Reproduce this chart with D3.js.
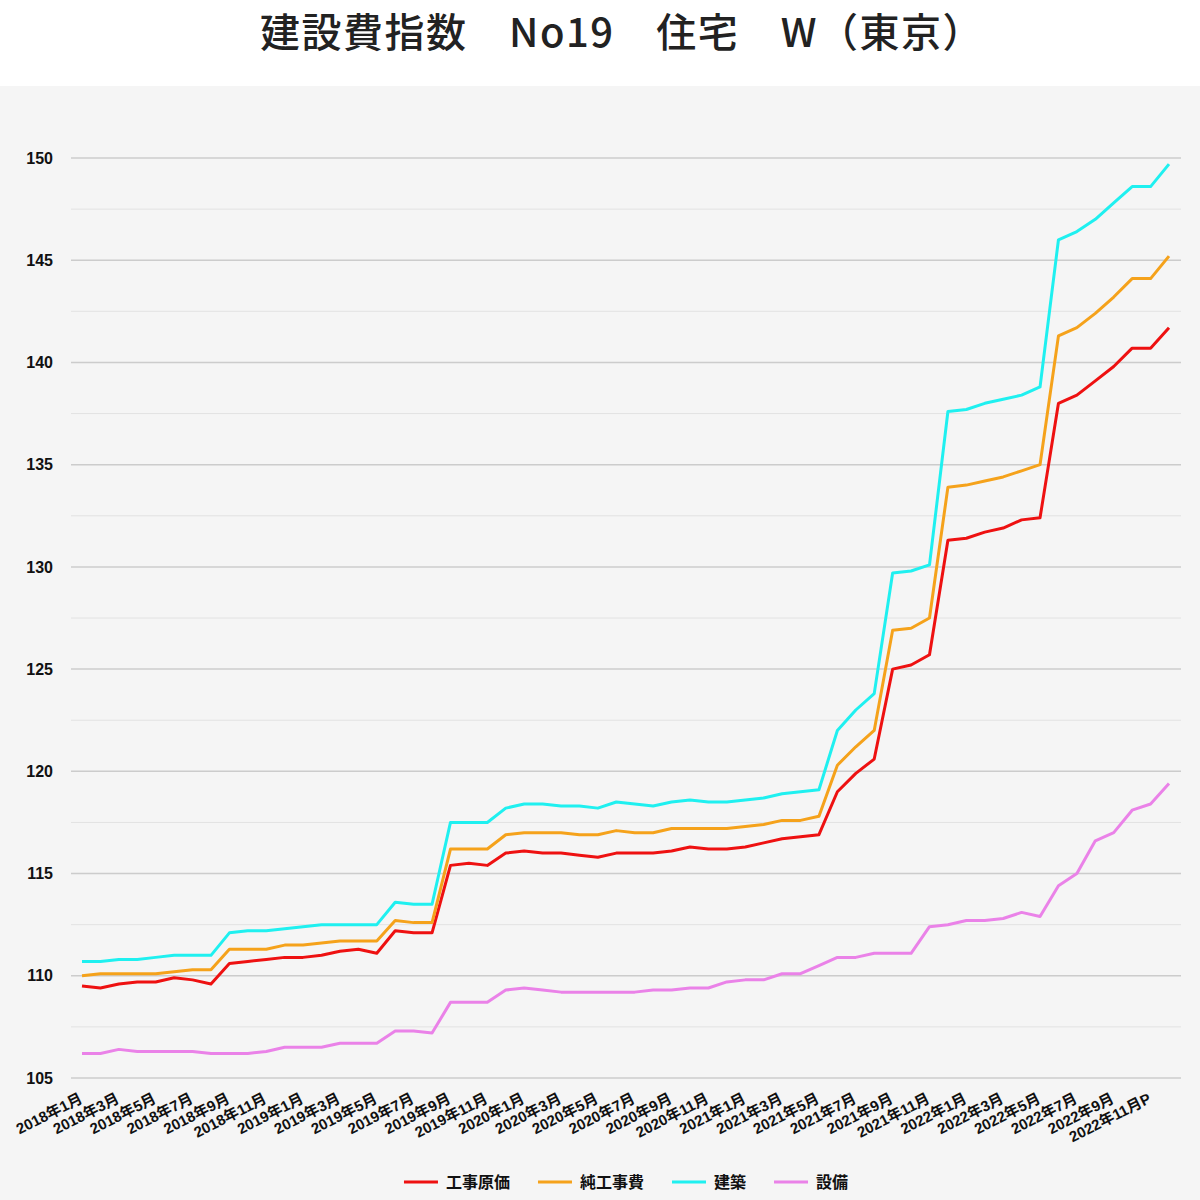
<!DOCTYPE html>
<html>
<head>
<meta charset="utf-8">
<script src="https://cdn.jsdelivr.net/npm/d3@7"></script>
<style>
	body { margin: 0; background: #ffffff; }
	svg { display: block; }
</style>
</head>
<body>
<svg id="chart-svg"></svg>
<script>
var CHART_WIDTH = 1200;
var CHART_HEIGHT = 1200;

var chartTitle = "建設費指数　No19　住宅　W（東京）";

// months, 2018年1月 .. 2022年12月 (last two preliminary)
var months = [
	"2018年1月", "2018年2月", "2018年3月", "2018年4月", "2018年5月", "2018年6月",
	"2018年7月", "2018年8月", "2018年9月", "2018年10月", "2018年11月", "2018年12月",
	"2019年1月", "2019年2月", "2019年3月", "2019年4月", "2019年5月", "2019年6月",
	"2019年7月", "2019年8月", "2019年9月", "2019年10月", "2019年11月", "2019年12月",
	"2020年1月", "2020年2月", "2020年3月", "2020年4月", "2020年5月", "2020年6月",
	"2020年7月", "2020年8月", "2020年9月", "2020年10月", "2020年11月", "2020年12月",
	"2021年1月", "2021年2月", "2021年3月", "2021年4月", "2021年5月", "2021年6月",
	"2021年7月", "2021年8月", "2021年9月", "2021年10月", "2021年11月", "2021年12月",
	"2022年1月", "2022年2月", "2022年3月", "2022年4月", "2022年5月", "2022年6月",
	"2022年7月", "2022年8月", "2022年9月", "2022年10月", "2022年11月P", "2022年12月P"
];

var seriesNames = ["工事原価", "純工事費", "建築", "設備"];

var kojiGenka = [
	109.5, 109.4, 109.6, 109.7, 109.7, 109.9, 109.8, 109.6, 110.6, 110.7,
	110.8, 110.9, 110.9, 111.0, 111.2, 111.3, 111.1, 112.2, 112.1, 112.1,
	115.4, 115.5, 115.4, 116.0, 116.1, 116.0, 116.0, 115.9, 115.8, 116.0,
	116.0, 116.0, 116.1, 116.3, 116.2, 116.2, 116.3, 116.5, 116.7, 116.8,
	116.9, 119.0, 119.9, 120.6, 125.0, 125.2, 125.7, 131.3, 131.4, 131.7,
	131.9, 132.3, 132.4, 138.0, 138.4, 139.1, 139.8, 140.7, 140.7, 141.7
];

var junKojihi = [
	110.0, 110.1, 110.1, 110.1, 110.1, 110.2, 110.3, 110.3, 111.3, 111.3,
	111.3, 111.5, 111.5, 111.6, 111.7, 111.7, 111.7, 112.7, 112.6, 112.6,
	116.2, 116.2, 116.2, 116.9, 117.0, 117.0, 117.0, 116.9, 116.9, 117.1,
	117.0, 117.0, 117.2, 117.2, 117.2, 117.2, 117.3, 117.4, 117.6, 117.6,
	117.8, 120.3, 121.2, 122.0, 126.9, 127.0, 127.5, 133.9, 134.0, 134.2,
	134.4, 134.7, 135.0, 141.3, 141.7, 142.4, 143.2, 144.1, 144.1, 145.2
];

var kenchiku = [
	110.7, 110.7, 110.8, 110.8, 110.9, 111.0, 111.0, 111.0, 112.1, 112.2,
	112.2, 112.3, 112.4, 112.5, 112.5, 112.5, 112.5, 113.6, 113.5, 113.5,
	117.5, 117.5, 117.5, 118.2, 118.4, 118.4, 118.3, 118.3, 118.2, 118.5,
	118.4, 118.3, 118.5, 118.6, 118.5, 118.5, 118.6, 118.7, 118.9, 119.0,
	119.1, 122.0, 123.0, 123.8, 129.7, 129.8, 130.1, 137.6, 137.7, 138.0,
	138.2, 138.4, 138.8, 146.0, 146.4, 147.0, 147.8, 148.6, 148.6, 149.7
];

var setsubi = [
	106.2, 106.2, 106.4, 106.3, 106.3, 106.3, 106.3, 106.2, 106.2, 106.2,
	106.3, 106.5, 106.5, 106.5, 106.7, 106.7, 106.7, 107.3, 107.3, 107.2,
	108.7, 108.7, 108.7, 109.3, 109.4, 109.3, 109.2, 109.2, 109.2, 109.2,
	109.2, 109.3, 109.3, 109.4, 109.4, 109.7, 109.8, 109.8, 110.1, 110.1,
	110.5, 110.9, 110.9, 111.1, 111.1, 111.1, 112.4, 112.5, 112.7, 112.7,
	112.8, 113.1, 112.9, 114.4, 115.0, 116.6, 117.0, 118.1, 118.4, 119.4
];

var yTicks = [105, 110, 115, 120, 125, 130, 135, 140, 145, 150];

var seriesColors = ["#ee1111", "#f5a21b", "#1ff0f0", "#ea82e8"];


function draw_chart() {
	var svg = d3.select("#chart-svg")
		.attr("width", CHART_WIDTH)
		.attr("height", CHART_HEIGHT);

	var allSeries = [kojiGenka, junKojihi, kenchiku, setsubi];
	var gridLeft = 71,
		gridRight = 1181;

	var x = d3.scalePoint()
	          .domain(months)
	          .range([82, 1169]);

	var y = d3.scaleLinear()
	          .domain([105, 150])
	          .range([1078, 158]);

	// background panel
	svg.append("rect")
		.attr("x", 0).attr("y", 86)
		.attr("width", CHART_WIDTH).attr("height", CHART_HEIGHT - 86)
		.attr("fill", "#f5f5f5");

	svg.append("text")
		.attr("x", 622)
		.attr("y", 47)
		.attr("text-anchor", "middle")
		.attr("font-family", "'Noto Sans CJK JP', 'Noto Sans CJK SC', sans-serif")
		.attr("font-weight", 500)
		.attr("font-size", 40)
		.attr("letter-spacing", 1.5)
		.attr("fill", "#222222")
		.text(chartTitle);

	// grid, every 2.5 with the minor ones lighter
	var gridVals = d3.range(105, 150.1, 2.5);
	svg.append("g")
		.selectAll("line")
		.data(gridVals)
		.join("line")
		.attr("x1", gridLeft).attr("x2", gridRight)
		.attr("y1", function(d) { return y(d); })
		.attr("y2", function(d) { return y(d); })
		.attr("stroke", function(d) { return d % 5 === 0 ? "#cccccc" : "#e2e2e2"; })
		.attr("stroke-width", function(d) { return d % 5 === 0 ? 1.5 : 1; });

	var yAxis = svg.append("g")
		.attr("transform", "translate(" + gridLeft + ",0)")
		.call(d3.axisLeft(y).tickValues(yTicks).tickSize(0).tickPadding(18));
	yAxis.select(".domain").remove();
	yAxis.selectAll("text")
		.attr("font-family", "'Liberation Sans', Arial, sans-serif")
		.attr("font-weight", "bold")
		.attr("font-size", 16)
		.attr("fill", "#111111");

	var labelMonths = months.filter(function(d, i) { return i % 2 === 0; });
	var xAxis = svg.append("g")
		.attr("transform", "translate(0,1092)")
		.call(d3.axisBottom(x).tickValues(labelMonths).tickSize(0).tickPadding(0));
	xAxis.select(".domain").remove();
	xAxis.selectAll("text")
		.attr("font-family", "'Liberation Sans', 'Noto Sans CJK JP', sans-serif")
		.attr("font-weight", "bold")
		.attr("font-size", 15)
		.attr("fill", "#111111")
		.attr("text-anchor", "end")
		.attr("y", 0)
		.attr("dy", 0)
		.attr("transform", "translate(1,10) rotate(-27)");

	var line = d3.line()
		.x(function(d, i) { return x(months[i]); })
		.y(function(d) { return y(d); });

	svg.append("g")
		.selectAll("path")
		.data(allSeries)
		.join("path")
		.attr("d", line)
		.attr("fill", "none")
		.attr("stroke", function(d, i) { return seriesColors[i]; })
		.attr("stroke-width", 3)
		.attr("stroke-linejoin", "round");

	// legend, centred over the plot
	var legend = svg.append("g");
	var lx = 0;
	var item, tw;
	for (var i = 0; i < seriesNames.length; i++) {
		item = legend.append("g").attr("transform", "translate(" + lx + ",0)");
		item.append("line")
			.attr("x1", 0).attr("x2", 34)
			.attr("y1", 0).attr("y2", 0)
			.attr("stroke", seriesColors[i])
			.attr("stroke-width", 3);
		var t = item.append("text")
			.attr("x", 42)
			.attr("y", 6)
			.attr("font-family", "'Noto Sans CJK JP', sans-serif")
			.attr("font-weight", "bold")
			.attr("font-size", 16)
			.attr("fill", "#111111")
			.text(seriesNames[i]);
		tw = t.node().getComputedTextLength();
		lx += 42 + tw + 28;
	}
	lx -= 28;
	legend.attr("transform", "translate(" + ((gridLeft + gridRight) / 2 - lx / 2) + ",1182)");
}

draw_chart();
</script>
</body>
</html>
